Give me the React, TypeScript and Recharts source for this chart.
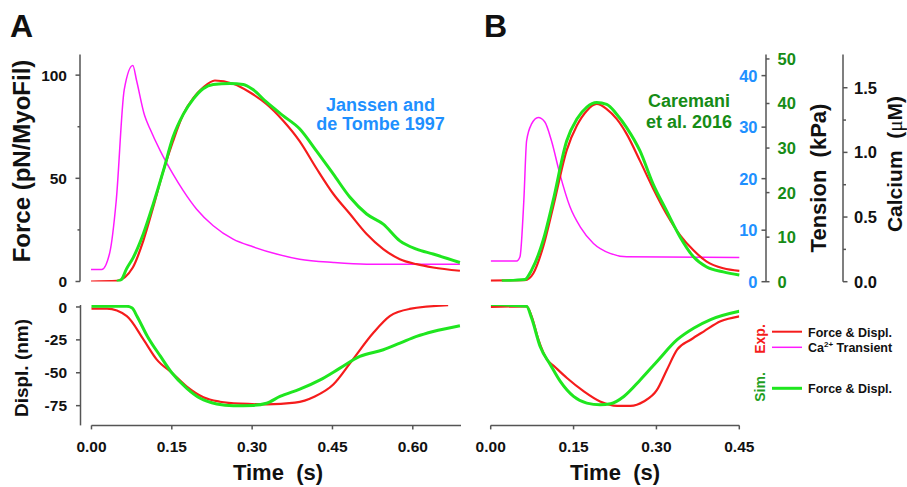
import React from 'react';
import { LineChart, Line, XAxis, YAxis, ReferenceLine } from 'recharts';

const FONT = '"Liberation Sans", Arial, Helvetica, sans-serif';
const AXIS = '#555555';
const RED = '#f51c1c';
const GREEN = '#1fe61f';
const MAGENTA = '#ff1aff';
const BLUE = '#1e90ff';
const DKGREEN = '#168c16';

// ---------- Panel A (Janssen and de Tombe 1997) ----------
const aExpForceT = [0, 0.048, 0.078, 0.0975, 0.116, 0.135, 0.153, 0.172, 0.191, 0.209, 0.231, 0.265, 0.296, 0.327, 0.358, 0.389, 0.42, 0.452, 0.483, 0.514, 0.545, 0.576, 0.607, 0.638, 0.688];
const aExpForceV = [0, 0.3, 6.8, 19.7, 36, 53.7, 68, 81, 89, 94, 97.4, 95.8, 91.7, 86, 78, 68, 55, 42.4, 32.7, 23, 15.7, 10.8, 8.4, 6.8, 5.2];

const aSimForceT = [0.048, 0.057, 0.066, 0.079, 0.0975, 0.116, 0.135, 0.153, 0.172, 0.191, 0.209, 0.228, 0.259, 0.284, 0.302, 0.327, 0.358, 0.389, 0.42, 0.452, 0.483, 0.514, 0.545, 0.576, 0.607, 0.638, 0.688];
const aSimForceV = [0, 1, 6, 11.7, 23, 37.5, 53.7, 70, 81, 88.5, 93.4, 95.5, 96, 95.5, 93, 87, 80.4, 74, 63.4, 52, 40.8, 32.7, 27.8, 19.7, 15.7, 13.3, 9.2];

const aCaT = [0, 0.02, 0.035, 0.047, 0.062, 0.078, 0.085, 0.1, 0.11, 0.129, 0.153, 0.172, 0.197, 0.228, 0.265, 0.302, 0.346, 0.389, 0.452, 0.514, 0.688];
const aCaV = [5.8, 5.8, 14, 39, 93, 104.7, 97.4, 80.4, 74, 63.4, 52, 44, 35, 27, 20.5, 16.8, 13.3, 10.8, 9.2, 8.4, 8.4];

const aExpDisplT = [0, 0.029, 0.066, 0.0975, 0.122, 0.15, 0.178, 0.209, 0.24, 0.278, 0.327, 0.38, 0.417, 0.452, 0.483, 0.526, 0.557, 0.594, 0.666];
const aExpDisplV = [-1.3, -1.3, -7, -25, -40, -50, -60.5, -68.6, -72, -73.5, -74, -72.7, -68, -58.7, -42.7, -19.8, -7, -1.5, 1.3];

const aSimDisplT = [0, 0.066, 0.076, 0.085, 0.104, 0.129, 0.15, 0.178, 0.203, 0.234, 0.265, 0.302, 0.327, 0.352, 0.389, 0.427, 0.464, 0.501, 0.545, 0.576, 0.607, 0.638, 0.688];
const aSimDisplV = [0.5, 0.5, -0.8, -7, -22, -37.6, -50, -61.8, -69.4, -73.7, -75, -74.8, -73.2, -68, -62.5, -55.4, -46.5, -37.6, -32.5, -27.5, -22.4, -18.6, -14.2];

// ---------- Panel B (Caremani et al. 2016) ----------
const bExpForceT = [0, 0.062, 0.077, 0.095, 0.113, 0.1375, 0.156, 0.174, 0.192, 0.21, 0.228, 0.246, 0.27, 0.294, 0.318, 0.343, 0.367, 0.391, 0.421, 0.45];
const bExpForceV = [0.2, 0.3, 1.6, 6.8, 14.5, 25.5, 30.3, 33.2, 34.5, 33.5, 31.6, 28.7, 23.5, 18.1, 13.2, 9.0, 6.1, 3.9, 2.6, 2.1];

const bSimForceT = [0.02, 0.062, 0.074, 0.095, 0.113, 0.1375, 0.156, 0.174, 0.192, 0.21, 0.228, 0.246, 0.27, 0.294, 0.318, 0.343, 0.367, 0.391, 0.421, 0.45];
const bSimForceV = [0.2, 0.5, 2.6, 9.3, 18.2, 31.6, 36.5, 39.2, 40.2, 39.8, 37.6, 34.6, 29.4, 21.9, 16.0, 10.0, 5.6, 3.3, 2.2, 1.5];

const bCaT = [0, 0.047, 0.053, 0.06, 0.065, 0.074, 0.086, 0.098, 0.11, 0.125, 0.1435, 0.162, 0.186, 0.216, 0.246, 0.45];
const bCaV = [0.16, 0.16, 0.193, 0.63, 1.09, 1.22, 1.27, 1.235, 1.09, 0.836, 0.579, 0.424, 0.296, 0.219, 0.193, 0.188];

const bExpDisplT = [0, 0.065, 0.074, 0.0865, 0.102, 0.114, 0.138, 0.168, 0.198, 0.229, 0.253, 0.277, 0.301, 0.319, 0.3375, 0.362, 0.386, 0.416, 0.45];
const bExpDisplV = [0, 0.5, -7, -25, -40, -44.7, -54, -64, -71.8, -75.1, -75.1, -71.8, -63, -47.7, -32.5, -24.9, -18.5, -10.9, -7.1];

const bSimDisplT = [0, 0.065, 0.074, 0.0895, 0.108, 0.126, 0.15, 0.174, 0.198, 0.217, 0.241, 0.271, 0.301, 0.3375, 0.368, 0.398, 0.45];
const bSimDisplV = [1.8, 0.5, -8.4, -30, -43.9, -56.6, -68, -73.1, -74.4, -73.6, -68, -55.3, -41.4, -24.9, -16, -9.6, -3.3];

// ---------- ticks ----------
const aTimeTicks = [0, 0.15, 0.3, 0.45, 0.6];
const bTimeTicks = [0, 0.15, 0.3, 0.45];
const forceTicks = [0, 25, 50, 75, 100];
const displTicks = [-75, -50, -25, 0];
const kPaTicks = [0, 10, 20, 30, 40];
const tensionTicks = [0, 10, 20, 30, 40, 50];
const caTicks = [0, 0.25, 0.5, 0.75, 1, 1.25, 1.5];

const zip = (t: number[], v: number[]) => t.map((x, i) => ({ t: x, v: v[i] }));

const yTick = (
  dir: number,
  isMajor: (v: number) => boolean,
  fmt: (v: number) => string,
  color: string,
  fontSize: number,
  majorLen: number,
  minorLen: number,
  gap: number
) => (props: any) => {
  const { x, y, payload } = props;
  const v = payload.value;
  const major = isMajor(v);
  const len = major ? majorLen : minorLen;
  return (
    <g>
      <line x1={x} x2={x + dir * len} y1={y} y2={y} stroke={AXIS} strokeWidth={1.5} />
      {major && (
        <text
          x={x + dir * gap}
          y={y}
          dy="0.36em"
          textAnchor={dir < 0 ? 'end' : 'start'}
          fill={color}
          fontSize={fontSize}
          fontWeight={700}
          fontFamily={FONT}
        >
          {fmt(v)}
        </text>
      )}
    </g>
  );
};

const axisLine = { stroke: AXIS, strokeWidth: 1.5 };
const xTickStyle = { fill: '#111', fontSize: 15.5, fontWeight: 700, fontFamily: FONT };

export default function App() {
  return (
    <div style={{ position: 'absolute', left: 0, top: 0, width: 907, height: 487, background: '#fff', overflow: 'hidden' }}>
      {/* Panel A top */}
      <div style={{ position: 'absolute', left: 0, top: 0 }}>
        <LineChart width={470} height={290} margin={{ top: 54.5, right: 9, bottom: 8.5, left: 0 }}>
          <XAxis type="number" dataKey="t" domain={[-0.0205, 0.69]} hide allowDataOverflow />
          <YAxis
            type="number"
            domain={[0, 110]}
            ticks={forceTicks}
            interval={0}
            width={80}
            axisLine={axisLine}
            tickLine={false}
            tickSize={0}
            tickMargin={0}
            tick={yTick(-1, (v) => v % 50 === 0, (v) => String(v), '#111', 15.5, 4.5, 2.5, 13)}
            allowDataOverflow
          />
          <Line data={zip(aCaT, aCaV)} dataKey="v" type="monotone" stroke={MAGENTA} strokeWidth={1.5} dot={false} isAnimationActive={false} />
          <Line data={zip(aExpForceT, aExpForceV)} dataKey="v" type="monotone" stroke={RED} strokeWidth={2.2} dot={false} isAnimationActive={false} />
          <Line data={zip(aSimForceT, aSimForceV)} dataKey="v" type="monotone" stroke={GREEN} strokeWidth={3} dot={false} isAnimationActive={false} />
        </LineChart>
      </div>

      {/* Panel A bottom */}
      <div style={{ position: 'absolute', left: 0, top: 290 }}>
        <LineChart width={470} height={197} margin={{ top: 15, right: 9, bottom: 31.6, left: 0 }}>
          <XAxis
            type="number"
            dataKey="t"
            domain={[-0.0205, 0.69]}
            ticks={aTimeTicks}
            interval={0}
            height={30}
            axisLine={false}
            tickLine={axisLine}
            tickSize={4}
            tickMargin={12}
            tick={xTickStyle}
            tickFormatter={(v: number) => v.toFixed(2)}
            allowDataOverflow
          />
          <YAxis
            type="number"
            domain={[-90, 1.5]}
            ticks={displTicks}
            interval={0}
            width={80.5}
            axisLine={axisLine}
            tickLine={false}
            tickSize={0}
            tickMargin={0}
            tick={yTick(-1, () => true, (v) => String(v), '#111', 15.5, 4.5, 4.5, 13.5)}
            allowDataOverflow
          />
          <ReferenceLine segment={[{ x: 0, y: -90 }, { x: 0.69, y: -90 }]} stroke={AXIS} strokeWidth={1.5} />
          <Line data={zip(aExpDisplT, aExpDisplV)} dataKey="v" type="monotone" stroke={RED} strokeWidth={2.2} dot={false} isAnimationActive={false} />
          <Line data={zip(aSimDisplT, aSimDisplV)} dataKey="v" type="monotone" stroke={GREEN} strokeWidth={3} dot={false} isAnimationActive={false} />
        </LineChart>
      </div>

      {/* Panel B top */}
      <div style={{ position: 'absolute', left: 470, top: 0 }}>
        <LineChart width={437} height={290} margin={{ top: 54.5, right: 0, bottom: 8.3, left: 20.7 }}>
          <XAxis type="number" dataKey="t" domain={[0, 0.4983]} hide allowDataOverflow />
          <YAxis
            yAxisId="a0"
            orientation="right"
            mirror
            type="number"
            domain={[0, 44.1]}
            ticks={kPaTicks}
            interval={0}
            width={40}
            axisLine={false}
            tickLine={false}
            tickSize={0}
            tickMargin={0}
            tick={yTick(-1, () => true, (v) => String(v), BLUE, 16.5, 4.5, 4.5, 8.5)}
            allowDataOverflow
          />
          <YAxis
            yAxisId="a1"
            orientation="right"
            type="number"
            domain={[0, 51]}
            ticks={tensionTicks}
            interval={0}
            width={77}
            axisLine={axisLine}
            tickLine={false}
            tickSize={0}
            tickMargin={0}
            tick={yTick(1, () => true, (v) => String(v), DKGREEN, 16.5, 3.5, 3.5, 11.5)}
            allowDataOverflow
          />
          <YAxis
            yAxisId="a2"
            orientation="right"
            type="number"
            domain={[0, 1.757]}
            ticks={caTicks}
            interval={0}
            width={64}
            axisLine={axisLine}
            tickLine={false}
            tickSize={0}
            tickMargin={0}
            tick={yTick(1, (v) => Math.abs(v * 2 - Math.round(v * 2)) < 1e-6, (v) => v.toFixed(1), '#111', 16.5, 4.5, 3, 11)}
            allowDataOverflow
          />
          <Line yAxisId="a2" data={zip(bCaT, bCaV)} dataKey="v" type="monotone" stroke={MAGENTA} strokeWidth={1.5} dot={false} isAnimationActive={false} />
          <Line yAxisId="a0" data={zip(bExpForceT, bExpForceV)} dataKey="v" type="monotone" stroke={RED} strokeWidth={2.2} dot={false} isAnimationActive={false} />
          <Line yAxisId="a1" data={zip(bSimForceT, bSimForceV)} dataKey="v" type="monotone" stroke={GREEN} strokeWidth={3} dot={false} isAnimationActive={false} />
        </LineChart>
      </div>

      {/* Panel B bottom */}
      <div style={{ position: 'absolute', left: 470, top: 290 }}>
        <LineChart width={437} height={197} margin={{ top: 15, right: 167.7, bottom: 31.6, left: 20.7 }}>
          <XAxis
            type="number"
            dataKey="t"
            domain={[0, 0.45]}
            ticks={bTimeTicks}
            interval={0}
            height={30}
            axisLine={axisLine}
            tickLine={axisLine}
            tickSize={4}
            tickMargin={12}
            tick={xTickStyle}
            tickFormatter={(v: number) => v.toFixed(2)}
            allowDataOverflow
          />
          <YAxis type="number" domain={[-90, 1.5]} hide allowDataOverflow />
          <Line data={zip(bExpDisplT, bExpDisplV)} dataKey="v" type="monotone" stroke={RED} strokeWidth={2.2} dot={false} isAnimationActive={false} />
          <Line data={zip(bSimDisplT, bSimDisplV)} dataKey="v" type="monotone" stroke={GREEN} strokeWidth={3} dot={false} isAnimationActive={false} />
        </LineChart>
      </div>

      {/* Text overlay: panel letters, axis titles, annotations, legend */}
      <svg
        width={907}
        height={487}
        style={{ position: 'absolute', left: 0, top: 0, pointerEvents: 'none' }}
        fontFamily={FONT}
        fontWeight={700}
      >
        <text x={10} y={37} fontSize={32} fill="#111">A</text>
        <text x={484} y={37} fontSize={32} fill="#111">B</text>

        <text x={30} y={161} transform="rotate(-90 30 161)" textAnchor="middle" fontSize={24} fill="#111">
          Force (pN/MyoFil)
        </text>
        <text x={27.5} y={368} transform="rotate(-90 27.5 368)" textAnchor="middle" fontSize={19} fill="#111">
          Displ. (nm)
        </text>
        <text x={278} y={480} textAnchor="middle" fontSize={22} fill="#111">Time{'\u00a0\u00a0'}(s)</text>
        <text x={615} y={480} textAnchor="middle" fontSize={22} fill="#111">Time{'\u00a0\u00a0'}(s)</text>

        <text x={826} y={178} transform="rotate(-90 826 178)" textAnchor="middle" fontSize={22} fill="#111">
          Tension{'\u00a0\u00a0'}(kPa)
        </text>
        <text x={902} y={164} transform="rotate(-90 902 164)" textAnchor="middle" fontSize={21} fill="#111">
          Calcium{'\u00a0\u00a0'}(<tspan fontFamily='"Liberation Serif", "DejaVu Serif", serif' fontWeight={400}>μ</tspan>M)
        </text>

        <text x={380.5} y={111} textAnchor="middle" fontSize={18} fill={BLUE}>Janssen and</text>
        <text x={380.5} y={130} textAnchor="middle" fontSize={18} fill={BLUE}>de Tombe 1997</text>
        <text x={689} y={107.3} textAnchor="middle" fontSize={18} fill={DKGREEN}>Caremani</text>
        <text x={689} y={127.7} textAnchor="middle" fontSize={18} fill={DKGREEN}>et al. 2016</text>

        {/* legend */}
        <text x={765} y={339} transform="rotate(-90 765 339)" textAnchor="middle" fontSize={14} fill={RED}>Exp.</text>
        <line x1={772} x2={802} y1={331.7} y2={331.7} stroke={RED} strokeWidth={2} />
        <line x1={772} x2={802} y1={347.3} y2={347.3} stroke={MAGENTA} strokeWidth={1.5} />
        <text x={808} y={336.5} fontSize={12.5} fill="#111">Force &amp; Displ.</text>
        <text x={808} y={352} fontSize={12.5} fill="#111">
          Ca<tspan fontSize={8} dy={-5}>2+</tspan><tspan dy={5}> Transient</tspan>
        </text>
        <text x={765} y={387} transform="rotate(-90 765 387)" textAnchor="middle" fontSize={14} fill="#1f9e1f">Sim.</text>
        <line x1={772} x2={802} y1={388.3} y2={388.3} stroke={GREEN} strokeWidth={3} />
        <text x={808} y={393} fontSize={12.5} fill="#111">Force &amp; Displ.</text>
      </svg>
    </div>
  );
}
